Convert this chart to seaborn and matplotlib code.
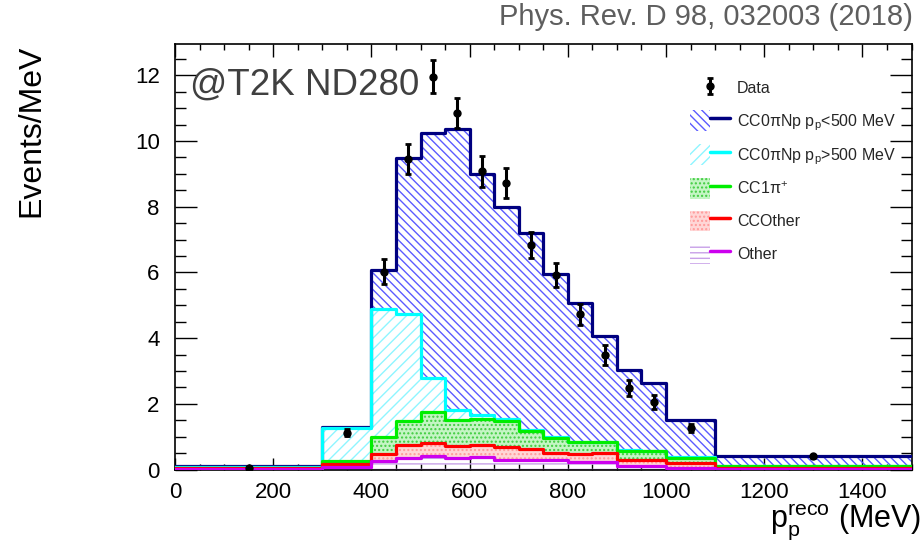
import numpy as np
import pandas as pd
import matplotlib
matplotlib.use("Agg")
import matplotlib.pyplot as plt
import seaborn as sns
from matplotlib.patches import Patch
from matplotlib.lines import Line2D
from matplotlib.legend_handler import HandlerTuple
from matplotlib.ticker import MultipleLocator
from matplotlib.colors import to_rgb

# ---------------- data ----------------
bin_edges = [0, 300, 400, 450, 500, 550, 600, 650, 700, 750, 800, 850, 900, 950, 1000, 1100, 1500]
# per-component contributions (Events/MeV), stacked bottom -> top: other, cc_other, cc1pi, cc0pi_high, cc0pi_low
other      = [0.02, 0.08, 0.27, 0.36, 0.40, 0.36, 0.39, 0.30, 0.28, 0.30, 0.24, 0.24, 0.10, 0.10, 0.06, 0.03]
cc_other   = [0.02, 0.08, 0.21, 0.40, 0.40, 0.37, 0.37, 0.40, 0.33, 0.20, 0.22, 0.26, 0.18, 0.18, 0.14, 0.03]
cc1pi      = [0.02, 0.11, 0.52, 0.71, 0.94, 0.79, 0.79, 0.77, 0.55, 0.47, 0.37, 0.33, 0.29, 0.27, 0.14, 0.04]
cc0pi_high = [0.02, 0.98, 3.89, 3.27, 1.04, 0.30, 0.12, 0.07, 0.04, 0.01, 0.01, 0.01, 0.02, 0.01, 0.03, 0.01]
cc0pi_low  = [0.02, 0.04, 1.17, 4.74, 7.46, 8.54, 7.33, 6.46, 6.00, 4.98, 4.24, 3.23, 2.45, 2.08, 1.15, 0.29]

data_x   = [150, 350, 425, 475, 525, 575, 625, 675, 725, 775, 825, 875, 925, 975, 1050, 1300]
data_y   = [0.05, 1.12, 6.02, 9.45, 11.95, 10.85, 9.08, 8.72, 6.84, 5.92, 4.72, 3.48, 2.48, 2.06, 1.27, 0.40]
data_err = [0.02, 0.10, 0.38, 0.45, 0.50, 0.47, 0.47, 0.45, 0.40, 0.36, 0.33, 0.30, 0.25, 0.22, 0.12, 0.04]

comp_names  = ["CC0πNp p$_{\\mathrm{p}}$<500 MeV", "CC0πNp p$_{\\mathrm{p}}$>500 MeV",
               "CC1$\\mathrm{\\pi}^{+}$", "CCOther", "Other"]          # top -> bottom
comp_values = [cc0pi_low, cc0pi_high, cc1pi, cc_other, other]
line_colors = ["#000080", "#00ffff", "#00ee00", "#ff0000", "#cc00ee"]
fill_colors = ["none", "none", "#c4f5c4", "#ffd6d6", "none"]
hatches     = ["\\\\\\\\", "///", "....", "....", "---"]
hatch_cols  = ["#5b5bff", "#8ff5ff", "#40cc40", "#ff9a9a", "#c8a0e8"]

# ---------------- style ----------------
sns.set_theme(style="ticks")
plt.rcParams["font.family"] = ["Liberation Sans", "DejaVu Sans"]
plt.rcParams["mathtext.fontset"] = "custom"
plt.rcParams["mathtext.rm"] = "Liberation Sans"
plt.rcParams["mathtext.it"] = "Liberation Sans:italic"
plt.rcParams["mathtext.bf"] = "Liberation Sans:bold"
plt.rcParams["hatch.linewidth"] = 1.0

centers = [(a + b) / 2 for a, b in zip(bin_edges[:-1], bin_edges[1:])]
rows = []
for name, vals in zip(comp_names, comp_values):
    for c, v in zip(centers, vals):
        rows.append({"x": c, "w": v, "comp": name})
df = pd.DataFrame(rows)

fig = plt.figure(figsize=(9.24, 5.54), dpi=100)
fig.patch.set_facecolor("white")
ax = fig.add_axes([175 / 924, 1 - 469.5 / 554, 736.5 / 924, (469.5 - 44) / 554])

pal = dict(zip(comp_names, line_colors))
style = {n: (fc, h, hc, lc, i) for i, (n, fc, h, hc, lc) in
         enumerate(zip(comp_names, fill_colors, hatches, hatch_cols, line_colors))}
rgb_lookup = {to_rgb(lc): n for n, lc in zip(comp_names, line_colors)}

def nearest(rgb):
    best, bd = None, 1e9
    for k, n in rgb_lookup.items():
        d = sum((a - b) ** 2 for a, b in zip(k, rgb))
        if d < bd:
            best, bd = n, d
    return best

# filled (hatched) stacked areas
n0 = len(ax.collections)
sns.histplot(df, x="x", weights="w", hue="comp", hue_order=comp_names, bins=bin_edges,
             multiple="stack", element="step", fill=True, palette=pal, alpha=1,
             linewidth=0, legend=False, ax=ax)
for coll in ax.collections[n0:]:
    n = nearest(to_rgb(coll.get_facecolor()[0][:3]))
    fc, h, hc, lc, i = style[n]
    coll.set_facecolor(fc)
    coll.set_edgecolor(hc)
    coll.set_linewidth(0)
    coll.set_hatch(h)
    coll.set_zorder(1 + 0.1 * i)

# outlines of each stacked layer
l0 = len(ax.lines)
sns.histplot(df, x="x", weights="w", hue="comp", hue_order=comp_names, bins=bin_edges,
             multiple="stack", element="step", fill=False, palette=pal,
             linewidth=2.3, legend=False, ax=ax)
for ln in ax.lines[l0:]:
    n = nearest(to_rgb(ln.get_color()))
    ln.set_zorder(3 + 0.1 * style[n][4])

# data
eb = ax.errorbar(data_x, data_y, yerr=data_err, fmt="o", color="black", ms=5,
                 elinewidth=2.2, capsize=2.2, capthick=2, zorder=6, label="Data")

ax.set_xlim(0, 1500)
ax.set_ylim(0, 12.95)
ax.set_xlabel("")
ax.set_ylabel("")
ax.xaxis.set_major_locator(MultipleLocator(200))
ax.xaxis.set_minor_locator(MultipleLocator(50))
ax.yaxis.set_major_locator(MultipleLocator(2))
ax.yaxis.set_minor_locator(MultipleLocator(0.5))
ax.tick_params(which="both", direction="in", top=True, right=True, colors="black", width=1.0)
ax.tick_params(axis="x", which="major", length=9, labelsize=16, pad=9)
ax.tick_params(axis="x", which="minor", length=4)
ax.tick_params(axis="y", which="major", length=16, labelsize=16, pad=11)
ax.tick_params(axis="y", which="minor", length=8)
for s in ax.spines.values():
    s.set_linewidth(1.2)
    s.set_color("black")

# legend
handles = [eb]
labels = ["Data"]
for n in comp_names:
    fc, h, hc, lc, i = style[n]
    handles.append((Patch(facecolor=fc, edgecolor=hc, hatch=h, linewidth=0),
                    Line2D([], [], color=lc, lw=2.5)))
    labels.append(n)
ax.legend(handles, labels, handler_map={tuple: HandlerTuple(ndivide=None, pad=0)},
          loc="upper left", bbox_to_anchor=(690 / 924, 1 - 78 / 554),
          bbox_transform=fig.transFigure, frameon=False, fontsize=11.5,
          handlelength=2.5, handleheight=1.6, handletextpad=0.45,
          labelspacing=0.74, borderpad=0, borderaxespad=0)

# texts
fig.text(31 / 924, 1 - 131 / 554, "Events/MeV", rotation=90, ha="center", va="center",
         fontsize=23, color="black")
fig.text(921 / 924, 1 - 527 / 554, "p$_{\\mathrm{p}}^{\\mathrm{reco}}$ (MeV)", ha="right",
         va="baseline", fontsize=22, color="black")
fig.text(190 / 924, 1 - 95 / 554, "@T2K ND280", ha="left", va="baseline",
         fontsize=26.5, color="#404040")
fig.text(913 / 924, 1 - 25 / 554, "Phys. Rev. D 98, 032003 (2018)", ha="right",
         va="baseline", fontsize=21, color="#5e5e5e")

fig.savefig("out.png", dpi=100)
